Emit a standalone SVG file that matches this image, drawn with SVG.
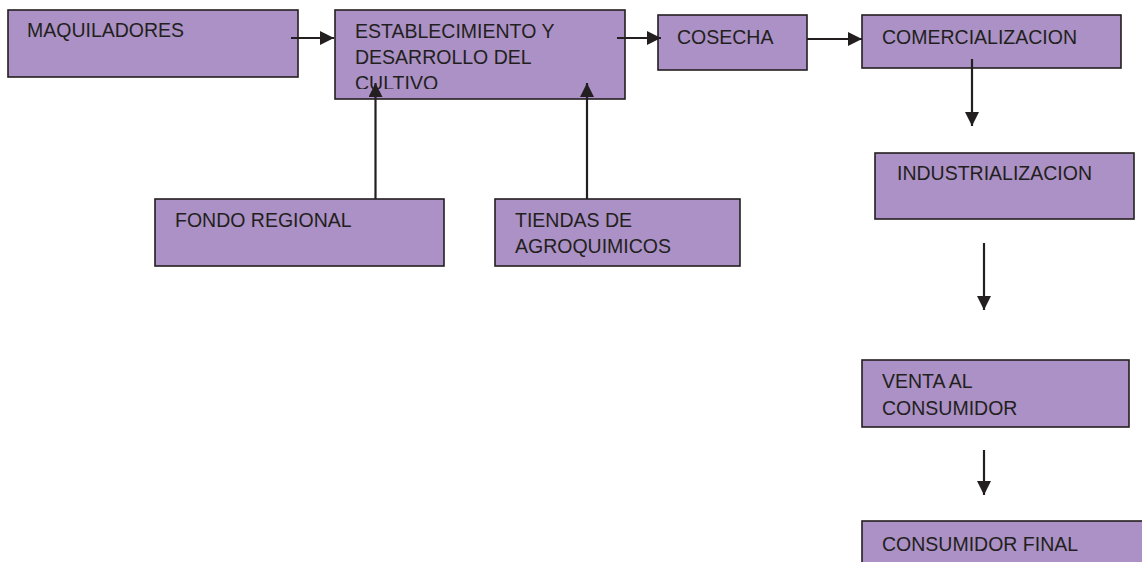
<svg xmlns="http://www.w3.org/2000/svg" width="1142" height="562" viewBox="0 0 1142 562">
<defs>
<style>
.box{fill:#AB91C5;stroke:#231F20;stroke-width:1.6}
.t{font-family:"Liberation Sans",Arial,sans-serif;font-size:19.5px;fill:#231F20}
.c{stroke:#231F20;stroke-width:2.2;fill:none}
</style>
<marker id="ah" markerUnits="userSpaceOnUse" markerWidth="16" markerHeight="16" refX="14" refY="7" orient="auto">
<path d="M0,0 L14,7 L0,14 z" fill="#231F20"/>
</marker>
<clipPath id="clipEst"><rect x="335" y="10" width="290" height="79"/></clipPath>
</defs>
<rect width="1142" height="562" fill="#ffffff"/>
<g id="maquiladores">
<rect class="box" x="8" y="10" width="290" height="67"/>
<text class="t" x="27" y="37">MAQUILADORES</text>
</g>
<g id="establecimiento">
<rect class="box" x="335" y="10" width="290" height="89"/>
<g clip-path="url(#clipEst)">
<text class="t" x="355" y="38">ESTABLECIMIENTO Y</text>
<text class="t" x="355" y="64">DESARROLLO DEL</text>
<text class="t" x="355" y="90">CULTIVO</text>
</g>
</g>
<g id="cosecha">
<rect class="box" x="658" y="15" width="149" height="55"/>
<text class="t" x="677" y="44">COSECHA</text>
</g>
<g id="comercializacion">
<rect class="box" x="862" y="15" width="259" height="53"/>
<text class="t" x="882" y="44">COMERCIALIZACION</text>
</g>
<g id="industrializacion">
<rect class="box" x="875" y="153" width="259" height="66"/>
<text class="t" x="897" y="180">INDUSTRIALIZACION</text>
</g>
<g id="fondo-regional">
<rect class="box" x="155" y="199" width="289" height="67"/>
<text class="t" x="175" y="227">FONDO REGIONAL</text>
</g>
<g id="tiendas">
<rect class="box" x="495" y="199" width="245" height="67"/>
<text class="t" x="515" y="227">TIENDAS DE</text>
<text class="t" x="515" y="253">AGROQUIMICOS</text>
</g>
<g id="venta">
<rect class="box" x="862" y="360" width="267" height="67"/>
<text class="t" x="882" y="388">VENTA AL</text>
<text class="t" x="882" y="415">CONSUMIDOR</text>
</g>
<g id="consumidor-final">
<rect class="box" x="862" y="521" width="300" height="60"/>
<text class="t" x="882" y="551">CONSUMIDOR FINAL</text>
</g>
<g id="connectors">
<line class="c" x1="291" y1="38" x2="334" y2="38" marker-end="url(#ah)"/>
<line class="c" x1="617" y1="38" x2="661" y2="38" marker-end="url(#ah)"/>
<line class="c" x1="807" y1="39" x2="862" y2="39" marker-end="url(#ah)"/>
<line class="c" x1="375.5" y1="199" x2="375.5" y2="83" marker-end="url(#ah)"/>
<line class="c" x1="587" y1="199" x2="587" y2="83" marker-end="url(#ah)"/>
<line class="c" x1="972" y1="59" x2="972" y2="126" marker-end="url(#ah)"/>
<line class="c" x1="984" y1="243" x2="984" y2="310" marker-end="url(#ah)"/>
<line class="c" x1="984" y1="450" x2="984" y2="495" marker-end="url(#ah)"/>
</g>
</svg>
